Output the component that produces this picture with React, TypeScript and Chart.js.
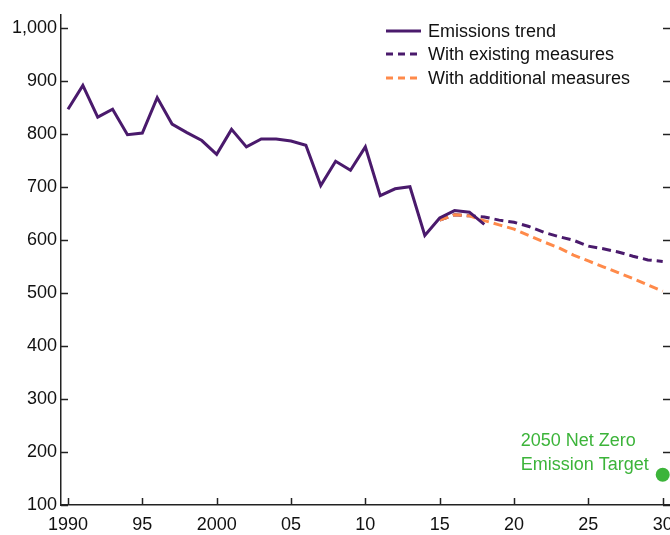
import React, { useEffect, useRef } from "react";
import Chart from "chart.js/auto";

const trendYears = [1990,1991,1992,1993,1994,1995,1996,1997,1998,1999,2000,2001,2002,2003,2004,2005,2006,2007,2008,2009,2010,2011,2012,2013,2014,2015,2016,2017,2018];
const trendValues = [846,891,831,846,798,801,868,818,802,787,761,808,775,790,790,786,778,702,748,731,775,683,696,700,608,641,655,652,629];
const projYears = [2015,2016,2017,2018,2019,2020,2021,2022,2023,2024,2025,2026,2027,2028,2029,2030];
const existingValues = [637,647,645,643,637,633,625,614,606,599,588,583,577,569,562,559];
const additionalValues = [637,647,645,636,628,620,608,596,585,571,560,549,538,527,515,503];
const targetYear = [2030];
const targetValue = [157];
const targetLabel = ["2050 Net Zero", "Emission Target"];
const yTicks = [100,200,300,400,500,600,700,800,900,1000];
const xTicks = [1990,1995,2000,2005,2010,2015,2020,2025,2030];
const xTickLabels = ["1990","95","2000","05","10","15","20","25","30"];
const seriesNames = ["Emissions trend", "With existing measures", "With additional measures"];

const PURPLE = "#4a1a6c";
const ORANGE = "#ff8a4a";
const GREEN = "#3cb43a";
const FONT = '"Liberation Sans", Arial, sans-serif';

const pts = (xs: number[], ys: number[]) => xs.map((x, i) => ({ x, y: ys[i] }));

const decor = {
  id: "decor",
  afterDraw(chart: any) {
    const { ctx, chartArea, scales } = chart;
    const { left, right, bottom } = chartArea;
    const x = scales.x, y = scales.y;
    ctx.save();
    ctx.strokeStyle = "#222";
    ctx.lineWidth = 1.5;
    ctx.setLineDash([]);
    yTicks.forEach((v) => {
      const py = Math.round(y.getPixelForValue(v)) + 0.5;
      ctx.beginPath(); ctx.moveTo(left, py); ctx.lineTo(left + 7, py); ctx.stroke();
      ctx.beginPath(); ctx.moveTo(right - 7, py); ctx.lineTo(right, py); ctx.stroke();
    });
    xTicks.forEach((v) => {
      const px = Math.round(x.getPixelForValue(v)) + 0.5;
      ctx.beginPath(); ctx.moveTo(px, bottom); ctx.lineTo(px, bottom - 7); ctx.stroke();
    });
    // legend
    const styles = [
      { color: PURPLE, dash: [] as number[] },
      { color: PURPLE, dash: [7, 5] },
      { color: ORANGE, dash: [7, 5] },
    ];
    const ly = [31, 54, 78];
    ctx.font = `18px ${FONT}`;
    ctx.textBaseline = "middle";
    ctx.textAlign = "left";
    seriesNames.forEach((name, i) => {
      ctx.strokeStyle = styles[i].color;
      ctx.lineWidth = 3;
      ctx.setLineDash(styles[i].dash);
      ctx.beginPath(); ctx.moveTo(386, ly[i]); ctx.lineTo(421, ly[i]); ctx.stroke();
      ctx.fillStyle = "#111";
      ctx.fillText(name, 428, ly[i] + 1);
    });
    // target annotation
    const px = x.getPixelForValue(targetYear[0]);
    const py = y.getPixelForValue(targetValue[0]);
    ctx.fillStyle = GREEN;
    ctx.fillText(targetLabel[0], px - 142, py - 34);
    ctx.fillText(targetLabel[1], px - 142, py - 10);
    ctx.restore();
  },
};

export default function App() {
  const ref = useRef<HTMLCanvasElement>(null);
  useEffect(() => {
    const chart = new Chart(ref.current!, {
      type: "line",
      data: {
        datasets: [
          { label: seriesNames[0], data: pts(trendYears, trendValues), borderColor: PURPLE, borderWidth: 3, pointRadius: 0, tension: 0, fill: false },
          { label: "Target", data: pts(targetYear, targetValue), showLine: false, pointRadius: 7, pointBackgroundColor: GREEN, pointBorderColor: GREEN, borderColor: GREEN, pointBorderWidth: 0 },
          { label: seriesNames[2], data: pts(projYears, additionalValues), borderColor: ORANGE, borderWidth: 3, borderDash: [9, 5], pointRadius: 0, tension: 0, fill: false },
          { label: seriesNames[1], data: pts(projYears, existingValues), borderColor: PURPLE, borderWidth: 3, borderDash: [9, 5], pointRadius: 0, tension: 0, fill: false },
        ],
      },
      options: {
        responsive: false,
        animation: false,
        devicePixelRatio: 1,
        layout: { padding: { top: 6, right: 20, left: 0, bottom: 0 } },
        plugins: { legend: { display: false }, tooltip: { enabled: false } },
        scales: {
          x: {
            type: "linear",
            min: 1989.53,
            max: 2030.49,
            afterBuildTicks: (s: any) => { s.ticks = xTicks.map((v) => ({ value: v })); },
            afterFit: (s: any) => { s.height = 30; },
            ticks: {
              autoSkip: false,
              maxRotation: 0,
              padding: 9,
              color: "#111",
              font: { family: FONT, size: 18 },
              callback: (v: any) => xTickLabels[xTicks.indexOf(Number(v))] ?? "",
            },
            grid: { drawOnChartArea: false, drawTicks: false },
            border: { display: true, color: "#222", width: 1.5 },
          },
          y: {
            type: "linear",
            min: 100,
            max: 1024,
            afterBuildTicks: (s: any) => { s.ticks = yTicks.map((v) => ({ value: v })); },
            afterFit: (s: any) => { s.width = 61; },
            ticks: {
              autoSkip: false,
              padding: 4,
              color: "#111",
              font: { family: FONT, size: 18 },
              callback: (v: any) => Number(v).toLocaleString("en-US"),
            },
            grid: { drawOnChartArea: false, drawTicks: false },
            border: { display: true, color: "#222", width: 1.5 },
          },
        },
      },
      plugins: [decor],
    } as any);
    return () => chart.destroy();
  }, []);
  return (
    <div style={{ position: "fixed", left: 0, top: 0, width: 670, height: 535, overflow: "hidden", background: "#fff" }}>
      <canvas ref={ref} width={690} height={535} style={{ display: "block" }} />
    </div>
  );
}
